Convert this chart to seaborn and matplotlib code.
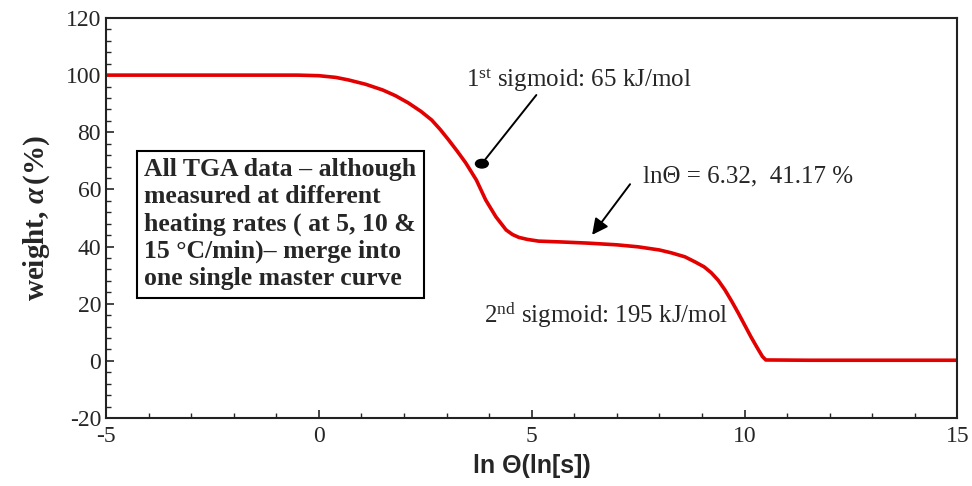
import numpy as np
import pandas as pd
import matplotlib
matplotlib.use("Agg")
import matplotlib.pyplot as plt
from matplotlib.ticker import MultipleLocator
from matplotlib.patches import Ellipse
import seaborn as sns

# Master curve
ln_theta = [-5.0, -2.0, -0.5, 0.0, 0.4, 0.7, 1.1, 1.5, 1.8, 2.1, 2.4, 2.65, 2.85, 3.05,
            3.25, 3.45, 3.7, 3.92, 4.16, 4.4, 4.55, 4.7, 4.9, 5.16, 5.7, 6.32, 7.0,
            7.5, 8.0, 8.28, 8.6, 8.84, 9.05, 9.22, 9.38, 9.54, 9.7, 9.85, 10.0,
            10.15, 10.3, 10.42, 10.5, 11.5, 13.0, 15.0]
weight = [100.0, 100.0, 100.0, 99.8, 99.2, 98.3, 96.8, 94.8, 92.8, 90.3, 87.3, 84.3,
          81.0, 77.3, 73.4, 69.3, 63.3, 56.3, 50.4, 45.8, 44.2, 43.2, 42.5, 41.9, 41.6,
          41.2, 40.6, 39.9, 38.8, 37.8, 36.4, 34.6, 32.9, 30.8, 28.2, 24.8, 20.8,
          16.8, 12.6, 8.4, 4.5, 1.5, 0.3, 0.2, 0.2, 0.2]

box_text = ["All TGA data \u2013 although",
            "measured at different",
            "heating rates ( at 5, 10 &",
            "15 \u00b0C/min)\u2013 merge into",
            "one single master curve"]

d = pd.DataFrame({"ln_theta": ln_theta, "weight": weight})

sns.set_style("ticks")
plt.rcParams["font.family"] = ["Liberation Serif", "DejaVu Serif"]
plt.rcParams["axes.unicode_minus"] = False
plt.rcParams["mathtext.fontset"] = "custom"
plt.rcParams["mathtext.rm"] = "Liberation Serif"
plt.rcParams["mathtext.it"] = "Liberation Serif:italic:bold"
plt.rcParams["mathtext.bf"] = "Liberation Serif:bold"

fig = plt.figure(figsize=(9.72, 4.86), dpi=100)
ax = fig.add_axes([0.109, 0.14, 0.876, 0.823])

sns.lineplot(data=d, x="ln_theta", y="weight", color="#e30000", linewidth=2.6, ax=ax,
             solid_joinstyle="round", solid_capstyle="round")

ax.set_xlim(-5, 15)
ax.set_ylim(-20, 120)
ax.xaxis.set_major_locator(MultipleLocator(5))
ax.xaxis.set_minor_locator(MultipleLocator(1))
ax.yaxis.set_major_locator(MultipleLocator(20))
ax.yaxis.set_minor_locator(MultipleLocator(4))
ax.tick_params(which="both", direction="in", top=False, right=False, labelsize=17)
ax.tick_params(which="major", length=6, width=1.2)
ax.tick_params(which="minor", length=3.5, width=1.0)
ax.tick_params(axis="x", pad=6)
for s in ax.spines.values():
    s.set_linewidth(1.5)
    s.set_color("#222222")

ax.set_xlabel("ln \u0398(ln[s])", fontsize=18, fontweight="bold",
              family=["Liberation Sans Narrow", "Liberation Sans", "DejaVu Sans"], labelpad=5)
ax.set_ylabel(r"weight, $\alpha\,$(%)", fontsize=21, fontweight="bold", labelpad=10)

# Text box
ax.text(-4.1, 47.8, "\n".join(box_text), fontsize=18.5, fontweight="bold",
        va="center", ha="left", linespacing=1.22,
        bbox=dict(boxstyle="square,pad=0.3", fc="white", ec="black", lw=1.5))

# 1st sigmoid annotation with a dot on the curve
ax.text(3.45, 98.3, r"1$^{\mathrm{st}}$ sigmoid: 65 kJ/mol", fontsize=18, va="center", ha="left")
ax.annotate("", xy=(3.83, 69.0), xytext=(5.15, 93.8),
            arrowprops=dict(arrowstyle="-", color="black", lw=1.4))
ax.add_patch(Ellipse((3.83, 69.0), 0.3, 3.0, color="black", zorder=5))

# plateau annotation
ax.text(7.62, 64.4, "ln\u0398 = 6.32,  41.17 %", fontsize=18, va="center", ha="left")
ax.annotate("", xy=(6.38, 43.3), xytext=(7.35, 62.6),
            arrowprops=dict(arrowstyle="-|>", color="black", lw=1.4, mutation_scale=24))

# 2nd sigmoid
ax.text(3.88, 16.0, r"2$^{\mathrm{nd}}$ sigmoid: 195 kJ/mol", fontsize=18, va="center", ha="left")

plt.savefig("out.png", dpi=100)
